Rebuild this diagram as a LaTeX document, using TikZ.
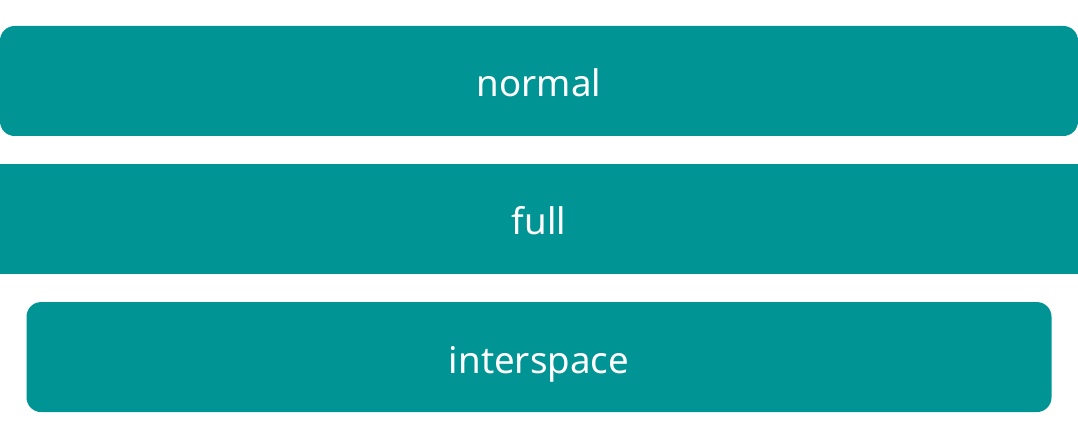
\documentclass[tikz,border=0pt]{standalone}
\usepackage{fontspec}
\setmainfont{Noto Sans}
\usetikzlibrary{positioning}
\definecolor{barteal}{HTML}{009494}

\begin{document}
\begin{tikzpicture}[x=0.75pt, y=-0.75pt]

    % TikZ styles for drawing %%%%%%%%%%%%%%%%%%%%%%%%%%%%%%%%%%%%%%%%%%%%%%%%%%%%%%
    \tikzstyle{bar} = [rectangle,fill=barteal,text=white,inner sep=0pt,minimum height=82.5pt,text height=24pt,text depth=0pt,font=\fontsize{27.5}{33}\selectfont]
    \tikzstyle{rounded} = [bar,rounded corners=11pt]

    \useasboundingbox (0,0) rectangle (1078,434);

    % Bars stacked from top to bottom %%%%%%%%%%%%%%%%%%%%%%%%%%%%%%%%%%%%%%%%%%%%%%%%%%
    \node[rounded, minimum width=808.5pt] (normal) at (539,81) {normal};
    \node[bar, minimum width=808.5pt, below=20.25pt of normal] (full) {full};
    \node[rounded, minimum width=768.75pt, below=21pt of full] (interspace) {interspace};

\end{tikzpicture}
\end{document}
